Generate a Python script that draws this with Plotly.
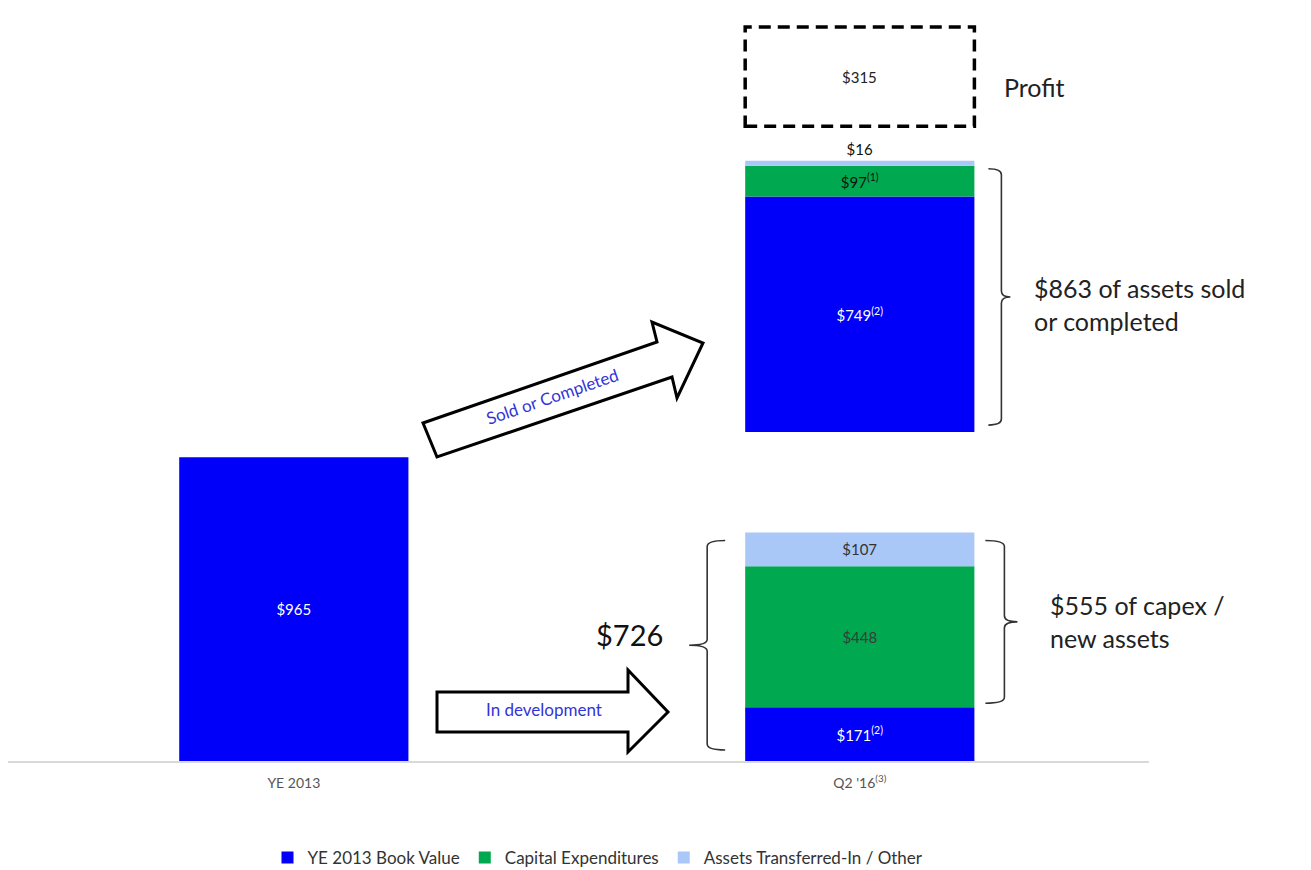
import plotly.graph_objects as go

# ---- data -------------------------------------------------------------
categories = ["YE 2013", "Q2 '16"]
category_notes = ["", "(3)"]

series_names = ["YE 2013 Book Value", "Capital Expenditures", "Assets Transferred-In / Other"]

ye2013_book_value = 965

# Q2 '16 stacks: index 0 = in development, index 1 = sold or completed
book_value_q2 = [171, 749]
capex_q2 = [448, 97]
other_q2 = [107, 16]
book_notes = ["(2)", "(2)"]
capex_notes = ["", "(1)"]
other_notes = ["", ""]

profit = 315
sold_completed_total = 863
capex_new_total = 555
in_development_total = 726

# ---- styling / layout constants -------------------------------------
BLUE = "#0000FA"
GREEN = "#00A94F"
LIGHT = "#A9C8F7"
FONT = "Lato"

W, H = 1311, 870
MARGIN = dict(l=8, r=162, t=11, b=109, autoexpand=False)
PLOT_W = W - MARGIN["l"] - MARGIN["r"]
PLOT_H = H - MARGIN["t"] - MARGIN["b"]
X_RANGE = [-0.505, 1.511]
Y_RANGE = [0, 2383]
PX_X = PLOT_W / (X_RANGE[1] - X_RANGE[0])   # pixels per x unit
PX_Y = PLOT_H / (Y_RANGE[1] - Y_RANGE[0])   # pixels per y unit
BAR_W = 0.405
SOLD_BASE = 1045      # floating start of the sold/completed stack
PROFIT_GAP = 110      # space between that stack and the profit box

x_pos = list(range(len(categories)))


def money(v, note=""):
    return f"${v}" + (f"<sup>{note}</sup>" if note else "")


def paper(xp, yp):
    """Figure pixel -> paper coordinates."""
    return (xp - MARGIN["l"]) / PLOT_W, (MARGIN["t"] + PLOT_H - yp) / PLOT_H


# stacked bases, computed from the values
dev_bases = [0, book_value_q2[0], book_value_q2[0] + capex_q2[0]]
sold_bases = [SOLD_BASE, SOLD_BASE + book_value_q2[1],
              SOLD_BASE + book_value_q2[1] + capex_q2[1]]
sold_top = sold_bases[2] + other_q2[1]
dev_top = dev_bases[2] + other_q2[0]

fig = go.Figure()

fig.add_trace(go.Bar(
    name=series_names[0], x=[x_pos[0], x_pos[1], x_pos[1]],
    y=[ye2013_book_value, book_value_q2[0], book_value_q2[1]],
    base=[0, dev_bases[0], sold_bases[0]],
    text=[money(ye2013_book_value), money(book_value_q2[0], book_notes[0]),
          money(book_value_q2[1], book_notes[1])],
    textposition="inside", insidetextanchor="middle", textangle=0,
    constraintext="none",
    textfont=dict(family=FONT, size=15, color="white"),
    marker=dict(color=BLUE, line=dict(width=0)), width=BAR_W,
    hoverinfo="skip",
))
fig.add_trace(go.Bar(
    name=series_names[1], x=[x_pos[1], x_pos[1]],
    y=capex_q2, base=[dev_bases[1], sold_bases[1]],
    text=[money(v, n) for v, n in zip(capex_q2, capex_notes)],
    textposition="inside", insidetextanchor="middle", textangle=0,
    constraintext="none",
    textfont=dict(family=FONT, size=15, color=["#3a3a3a", "#111111"]),
    marker=dict(color=GREEN, line=dict(width=0)), width=BAR_W,
    hoverinfo="skip",
))
fig.add_trace(go.Bar(
    name=series_names[2], x=[x_pos[1], x_pos[1]],
    y=other_q2, base=[dev_bases[2], sold_bases[2]],
    text=[money(v, n) for v, n in zip(other_q2, other_notes)],
    textposition=["inside", "outside"], insidetextanchor="middle", textangle=0,
    constraintext="none", cliponaxis=False,
    textfont=dict(family=FONT, size=15, color=["#333333", "#111111"]),
    marker=dict(color=LIGHT, line=dict(width=0)), width=BAR_W,
    hoverinfo="skip",
))

shapes = []
annotations = []

# dashed profit box above the sold/completed stack
p0 = sold_top + PROFIT_GAP
shapes.append(dict(type="rect", xref="x", yref="y",
                   x0=x_pos[1] - BAR_W / 2, x1=x_pos[1] + BAR_W / 2,
                   y0=p0, y1=p0 + profit,
                   line=dict(color="black", width=3.5, dash="12px,7px"),
                   fillcolor="rgba(0,0,0,0)"))
annotations.append(dict(x=x_pos[1], y=p0 + profit / 2, xref="x", yref="y",
                        text=money(profit), showarrow=False,
                        font=dict(family=FONT, size=15, color="#222")))
annotations.append(dict(x=x_pos[1] + BAR_W / 2 + 28 / PX_X, y=p0 + profit / 2 - 10 / PX_Y,
                        xref="x", yref="y", text="Profit", showarrow=False,
                        xanchor="left", yanchor="middle",
                        font=dict(family=FONT, size=25, color="#222")))


def brace(xv, y_lo, y_hi, side, tick_px, point_px, r_px=6):
    """Curly brace path in data coordinates; side=+1 points right, -1 points left."""
    dx_t = tick_px / PX_X * -side
    dx_p = point_px / PX_X * side
    r = r_px / PX_Y
    ym = (y_lo + y_hi) / 2
    return (f"M {xv + dx_t},{y_hi} Q {xv},{y_hi} {xv},{y_hi - r} "
            f"L {xv},{ym + r} Q {xv},{ym} {xv + dx_p},{ym} "
            f"Q {xv},{ym} {xv},{ym - r} L {xv},{y_lo + r} "
            f"Q {xv},{y_lo} {xv + dx_t},{y_lo}")


brace_line = dict(color="#333333", width=1.6)
right_edge = x_pos[1] + BAR_W / 2
left_edge = x_pos[1] - BAR_W / 2

# sold / completed brace
b1_lo, b1_hi = sold_bases[0] + 7 / PX_Y, sold_top - 8 / PX_Y
shapes.append(dict(type="path", xref="x", yref="y", line=brace_line,
                   path=brace(right_edge + 27 / PX_X, b1_lo, b1_hi, 1, 13, 9)))
annotations.append(dict(x=right_edge + 58 / PX_X, y=(b1_lo + b1_hi) / 2 - 8 / PX_Y,
                        xref="x", yref="y", xanchor="left", yanchor="middle",
                        align="left", showarrow=False,
                        text=f"${sold_completed_total} of assets sold<br>or completed",
                        font=dict(family=FONT, size=25, color="#222")))

# in-development brace (whole lower stack)
b2_lo, b2_hi = 11 / PX_Y, dev_top - 8 / PX_Y
shapes.append(dict(type="path", xref="x", yref="y", line=brace_line,
                   path=brace(left_edge - 38 / PX_X, b2_lo, b2_hi, -1, 18, 18)))
annotations.append(dict(x=left_edge - 80 / PX_X, y=(b2_lo + b2_hi) / 2 + 11 / PX_Y,
                        xref="x", yref="y", xanchor="right", yanchor="middle",
                        showarrow=False, text=f"${in_development_total}",
                        font=dict(family=FONT, size=29, color="#111")))

# capex / new assets brace
b3_lo, b3_hi = dev_bases[1] + 4 / PX_Y, dev_top - 8 / PX_Y
shapes.append(dict(type="path", xref="x", yref="y", line=brace_line,
                   path=brace(right_edge + 30 / PX_X, b3_lo, b3_hi, 1, 19, 13)))
annotations.append(dict(x=right_edge + 74 / PX_X, y=(b3_lo + b3_hi) / 2,
                        xref="x", yref="y", xanchor="left", yanchor="middle",
                        align="left", showarrow=False,
                        text=f"${capex_new_total} of capex /<br>new assets",
                        font=dict(family=FONT, size=25, color="#222")))


def arrow_path(points):
    pts = [paper(*p) for p in points]
    return "M " + " L ".join(f"{x},{y}" for x, y in pts) + " Z"


# block arrows
sold_arrow = [(437, 457), (423, 423), (657, 342), (652, 322), (703, 343), (677, 398), (672, 377)]
dev_arrow = [(437, 692), (628, 692), (628, 670), (668, 712), (628, 752), (628, 732), (437, 732)]
for pts in (sold_arrow, dev_arrow):
    shapes.append(dict(type="path", xref="paper", yref="paper", path=arrow_path(pts),
                       line=dict(color="black", width=3), fillcolor="white", layer="above"))

ax, ay = paper(552, 396)
annotations.append(dict(x=ax, y=ay, xref="paper", yref="paper", text="Sold or Completed",
                        textangle=-19, showarrow=False,
                        font=dict(family=FONT, size=17, color="#3434d6")))
ax, ay = paper(544, 722)
annotations.append(dict(x=ax, y=ay, xref="paper", yref="paper", text="In development",
                        showarrow=False, font=dict(family=FONT, size=17, color="#3434d6")))

tick_text = [c + (f"<sup>{n}</sup>" if n else "") for c, n in zip(categories, category_notes)]

lx, ly = paper(598, 858)
fig.update_layout(
    width=W, height=H, margin=MARGIN,
    paper_bgcolor="white", plot_bgcolor="white",
    barmode="overlay",
    font=dict(family=FONT, color="#333"),
    xaxis=dict(range=X_RANGE, tickvals=x_pos, ticktext=tick_text,
               showgrid=False, zeroline=False, showline=True, automargin=False,
               linecolor="#d9d9d9", linewidth=2, ticks="", ticklabelstandoff=8,
               tickfont=dict(family=FONT, size=14, color="#555")),
    yaxis=dict(range=Y_RANGE, visible=False, showgrid=False, zeroline=False,
               automargin=False),
    showlegend=True,
    legend=dict(orientation="h", x=lx, y=ly, xanchor="center", yanchor="middle",
                traceorder="normal", font=dict(family=FONT, size=17, color="#333"),
                itemwidth=30),
    shapes=shapes, annotations=annotations,
)

fig.write_html("out.html")
